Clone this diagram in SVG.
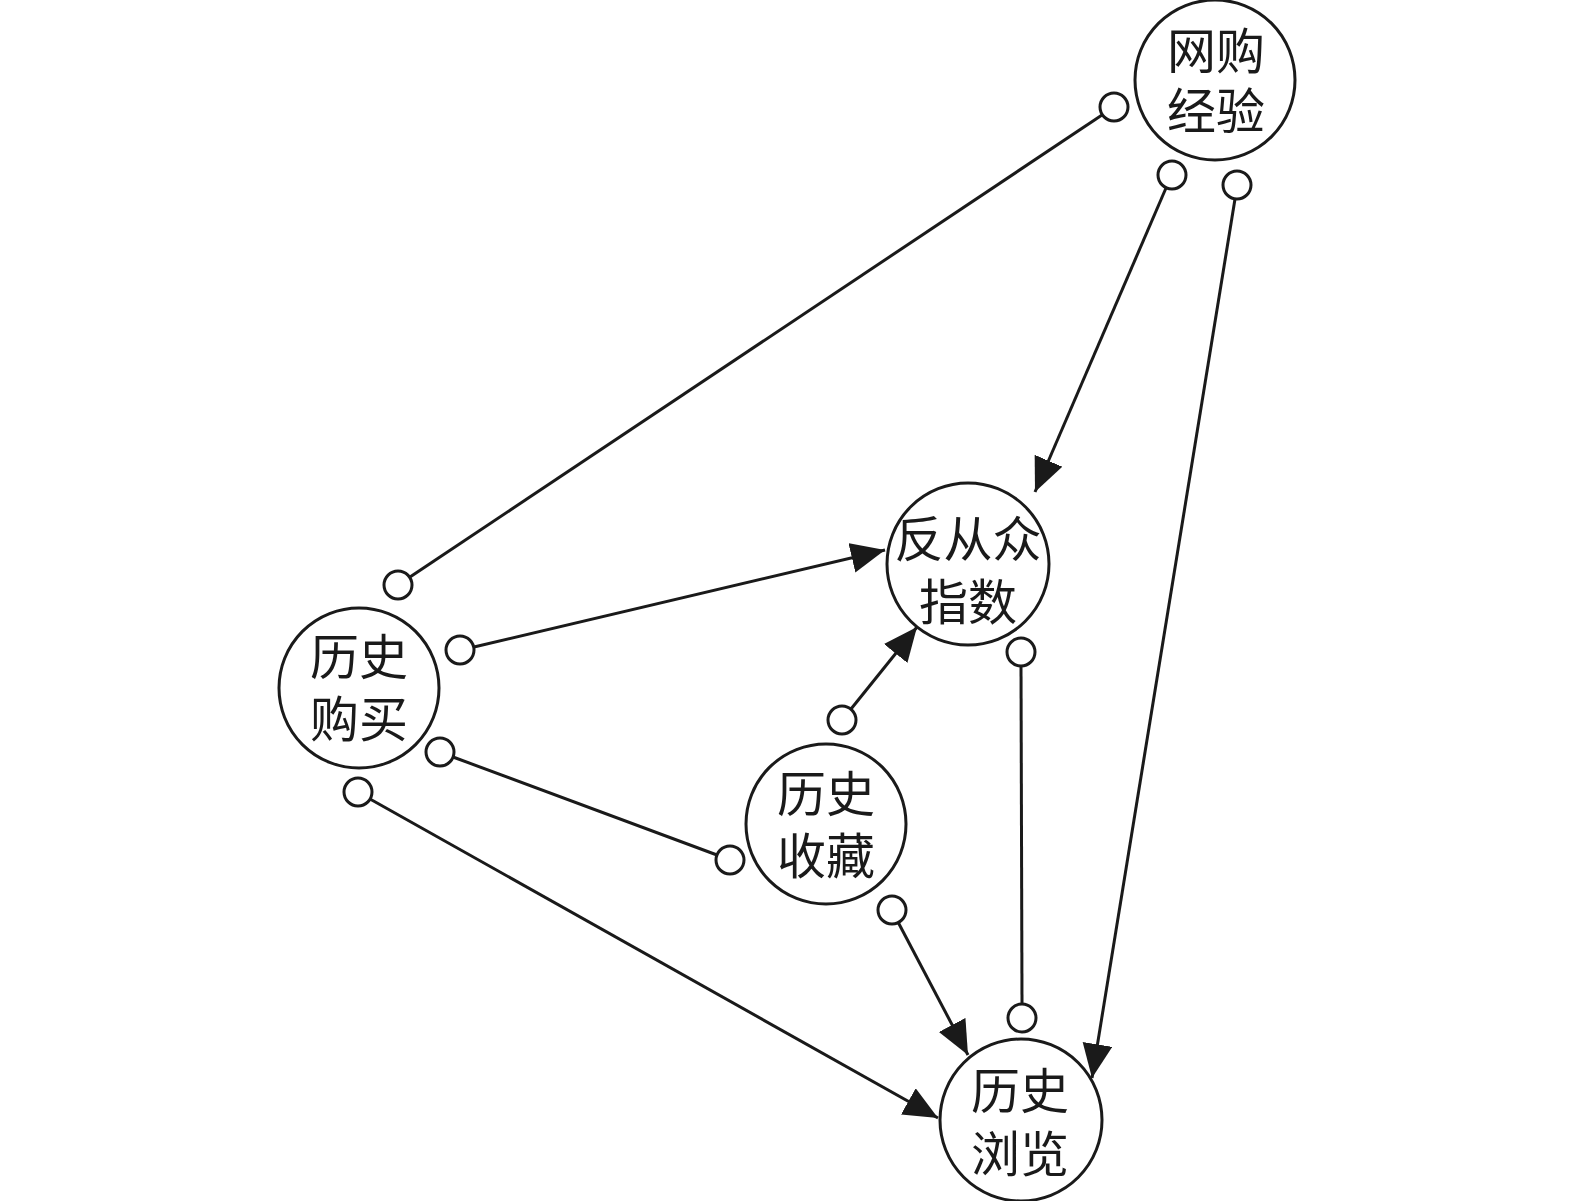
<svg xmlns="http://www.w3.org/2000/svg" width="1575" height="1201" viewBox="0 0 1575 1201">
<style>
.node{fill:#fff;stroke:#1a1a1a;stroke-width:3}
.lbl{font-family:"Liberation Serif","Noto Sans CJK SC",serif;font-size:49px;fill:#1a1a1a;text-anchor:middle}
.edge{stroke:#1a1a1a;stroke-width:3;fill:none}
.end{fill:#fff;stroke:#1a1a1a;stroke-width:3}
</style>
<defs>
<marker id="arr" markerUnits="userSpaceOnUse" markerWidth="36" markerHeight="32" refX="34" refY="15" orient="auto">
<path d="M0,0 L34,15 L0,30 z" fill="#1a1a1a"/>
</marker>
</defs>
<rect width="1575" height="1201" fill="#fff"/>
<g id="connectors">
<line class="edge" x1="1102" y1="115" x2="410" y2="577"/>
<circle class="end" cx="1114" cy="107" r="14"/>
<circle class="end" cx="398" cy="585" r="14"/>
<line class="edge" x1="1166" y1="188" x2="1035" y2="492" marker-end="url(#arr)"/>
<circle class="end" cx="1172" cy="175" r="14"/>
<line class="edge" x1="1235" y1="199" x2="1092" y2="1078" marker-end="url(#arr)"/>
<circle class="end" cx="1237" cy="185" r="14"/>
<line class="edge" x1="474" y1="647" x2="885" y2="550" marker-end="url(#arr)"/>
<circle class="end" cx="460" cy="650" r="14"/>
<line class="edge" x1="851" y1="709" x2="917" y2="627" marker-end="url(#arr)"/>
<circle class="end" cx="842" cy="720" r="14"/>
<line class="edge" x1="453" y1="757" x2="717" y2="855"/>
<circle class="end" cx="440" cy="752" r="14"/>
<circle class="end" cx="730" cy="860" r="14"/>
<line class="edge" x1="370" y1="799" x2="938" y2="1118" marker-end="url(#arr)"/>
<circle class="end" cx="358" cy="792" r="14"/>
<line class="edge" x1="898" y1="922" x2="968" y2="1055" marker-end="url(#arr)"/>
<circle class="end" cx="892" cy="910" r="14"/>
<line class="edge" x1="1021" y1="666" x2="1022" y2="1004"/>
<circle class="end" cx="1021" cy="652" r="14"/>
<circle class="end" cx="1022" cy="1018" r="14"/>
</g>
<g id="n_wanggou">
<circle class="node" cx="1215" cy="80" r="80"/>
<text class="lbl" x="1216" y="69">网购</text>
<text class="lbl" x="1216" y="129">经验</text>
</g>
<g id="n_goumai">
<circle class="node" cx="359" cy="688" r="80"/>
<text class="lbl" x="359" y="675">历史</text>
<text class="lbl" x="359" y="737">购买</text>
</g>
<g id="n_fancongzhong">
<circle class="node" cx="968" cy="564" r="81"/>
<text class="lbl" x="968" y="557">反从众</text>
<text class="lbl" x="968" y="620">指数</text>
</g>
<g id="n_shoucang">
<circle class="node" cx="826" cy="824" r="80"/>
<text class="lbl" x="826" y="812">历史</text>
<text class="lbl" x="826" y="874">收藏</text>
</g>
<g id="n_liulan">
<circle class="node" cx="1021" cy="1120" r="81"/>
<text class="lbl" x="1020" y="1109">历史</text>
<text class="lbl" x="1020" y="1172">浏览</text>
</g>
</svg>
